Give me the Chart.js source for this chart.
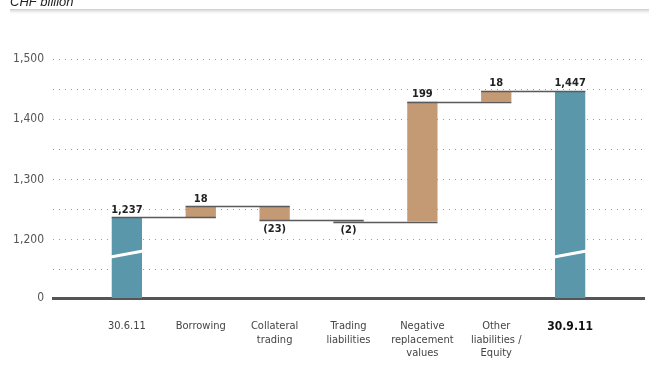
<!DOCTYPE html>
<html>
<head>
<meta charset="utf-8">
<script src="https://cdn.jsdelivr.net/npm/chart.js@4"></script>
<style>
  html, body { margin: 0; padding: 0; background: #fff; }
  #wrap { position: relative; width: 649px; height: 369px; }
</style>
</head>
<body>
<div id="wrap"><canvas id="myChart"></canvas></div>
<script>
// data
const categories = ["30.6.11", "Borrowing", ["Collateral", "trading"], ["Trading", "liabilities"],
  ["Negative", "replacement", "values"], ["Other", "liabilities /", "Equity"], "30.9.11"];
const startValue = 1237;
const changes = [18, -23, -2, 199, 18];
const endValue = 1447;
const valueLabels = ["1,237", "18", "(23)", "(2)", "199", "18", "1,447"];
const yTicks = [1150, 1200, 1250, 1300, 1350, 1400, 1450, 1500];
const axisBase = 1103; // shown as "0" (broken axis)

const TEAL = "#5b97ab";
const TAN = "#c39a73";
const FONT = "'DejaVu Sans Condensed', 'Liberation Sans Narrow', 'Roboto', sans-serif";

// build floating bars
const ranges = [[axisBase, startValue]];
const colors = [TEAL];
let level = startValue;
changes.forEach(c => {
  ranges.push([level, level + c]);
  colors.push(TAN);
  level += c;
});
ranges.push([axisBase, endValue]);
colors.push(TEAL);

// empty slot at each side so the grid runs past the bars
const labels = [""].concat(categories, [""]);
const barData = [null].concat(ranges, [null]);
const barColors = ["#fff"].concat(colors, ["#fff"]);

const ctx = document.getElementById("myChart");

const extras = {
  id: "extras",
  afterDatasetsDraw(chart) {
    const c = chart.ctx;
    const meta = chart.getDatasetMeta(0);
    const y = chart.scales.y;
    const bars = meta.data;

    // connectors
    c.save();
    c.strokeStyle = "#5a5a5a";
    c.lineWidth = 1.5;
    let lvl = startValue;
    const levels = [startValue];
    changes.forEach(ch => { lvl += ch; levels.push(lvl); });
    for (let i = 1; i <= levels.length; i++) {
      const a = bars[i], b = bars[i + 1];
      if (!a || !b) continue;
      const py = Math.round(y.getPixelForValue(levels[i - 1])) + 0.5;
      c.beginPath();
      c.moveTo(a.x - a.width / 2, py);
      c.lineTo(b.x + b.width / 2, py);
      c.stroke();
    }
    c.restore();

    // axis break on the total bars
    c.save();
    c.strokeStyle = "#fff";
    c.lineWidth = 3;
    [1, bars.length - 2].forEach(i => {
      const b = bars[i];
      const py = y.getPixelForValue(1176);
      c.beginPath();
      c.moveTo(b.x - b.width / 2 - 1, py + 3);
      c.lineTo(b.x + b.width / 2 + 1, py - 3);
      c.stroke();
    });
    c.restore();

    // value labels
    c.save();
    c.fillStyle = "#222";
    c.font = "bold 11px " + FONT;
    c.textAlign = "center";
    ranges.forEach((r, k) => {
      const b = bars[k + 1];
      const neg = r[1] < r[0];
      if (neg) {
        c.textBaseline = "top";
        c.fillText(valueLabels[k], b.x, y.getPixelForValue(r[1]) + 3);
      } else {
        c.textBaseline = "bottom";
        c.fillText(valueLabels[k], b.x, y.getPixelForValue(r[1]) - 2);
      }
    });
    c.restore();
  },
  afterDraw(chart) {
    const c = chart.ctx;
    c.save();
    // header
    c.fillStyle = "#222";
    c.font = "italic 13px 'Liberation Sans', Arial, sans-serif";
    c.textBaseline = "alphabetic";
    c.textAlign = "left";
    c.fillText("CHF billion", 10, 6);
    const g = c.createLinearGradient(0, 9, 0, 15);
    g.addColorStop(0, "#c8c8c8");
    g.addColorStop(1, "rgba(255,255,255,0)");
    c.fillStyle = g;
    c.fillRect(10, 9, 639, 6);
    c.restore();
  }
};

new Chart(ctx, {
  type: "bar",
  data: {
    labels: labels,
    datasets: [{
      data: barData,
      backgroundColor: barColors,
      borderWidth: 0,
      barPercentage: 0.82,
      categoryPercentage: 0.5
    }]
  },
  options: {
    responsive: true,
    maintainAspectRatio: false,
    animation: false,
    layout: { padding: { top: 59, right: 5, left: 0, bottom: 0 } },
    plugins: { legend: { display: false }, tooltip: { enabled: false } },
    scales: {
      x: {
        offset: false,
        grid: { display: false },
        border: { color: "#555", width: 3 },
        ticks: {
          color: (c) => c.index === labels.length - 2 ? "#111" : "#444",
          font: (c) => ({ family: FONT, size: c.index === labels.length - 2 ? 12 : 11,
            weight: c.index === labels.length - 2 ? "bold" : "normal" }),
          padding: 14,
          maxRotation: 0,
          autoSkip: false,
          callback(v, i) { return labels[i]; }
        },
        afterFit(s) { s.height = 71; s.paddingRight = 0; s.paddingLeft = 0; }
      },
      y: {
        min: axisBase,
        max: 1500,
        afterBuildTicks(s) {
          s.ticks = [axisBase].concat(yTicks).map(v => ({ value: v }));
        },
        grid: {
          color: "#9a9a9a",
          lineWidth: 1,
          drawTicks: false
        },
        border: { display: false, dash: [1, 5] },
        ticks: {
          color: "#555",
          font: { family: FONT, size: 12 },
          padding: 9,
          callback(v) {
            if (v === axisBase) return "0";
            return v % 100 === 0 ? v.toLocaleString("en-US") : "";
          }
        },
        afterFit(s) { s.width = 53; }
      }
    }
  },
  plugins: [extras]
});
</script>
</body>
</html>
